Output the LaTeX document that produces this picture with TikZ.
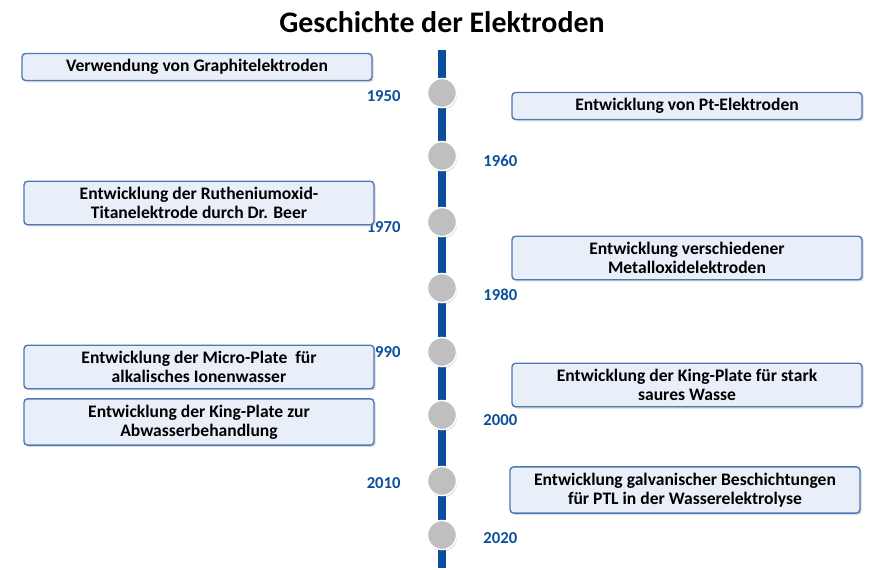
\documentclass[tikz,border=0pt]{standalone}
\usepackage{fontspec}
\setmainfont{Carlito}
\usetikzlibrary{positioning,shadows}
\definecolor{lineblue}{HTML}{0B4F9C}
\definecolor{boxfill}{HTML}{E9EFF9}
\definecolor{boxdraw}{HTML}{4F78B5}
\definecolor{dotgray}{HTML}{BFBFBF}

\begin{document}
\begin{tikzpicture}[x=0.02cm, y=-0.02cm,
event/.style={rectangle, rounded corners=2pt, draw=boxdraw, fill=boxfill, thick, minimum width=7cm, minimum height=0.5cm, align=center, font=\bfseries\fontsize{10}{11}\selectfont, drop shadow={opacity=0.3, shadow xshift=1pt, shadow yshift=-1pt}},
tall/.style={event, minimum height=0.8cm},
dot/.style={circle, fill=dotgray, draw=white, thick, minimum size=0.58cm, inner sep=0pt, drop shadow={opacity=0.25, shadow xshift=0.5pt, shadow yshift=-1pt}},
year/.style={text=lineblue, font=\bfseries\fontsize{9.5}{10}\selectfont},
]
\useasboundingbox (0,0) rectangle (890,570);

\node[font=\bfseries\fontsize{17}{20}\selectfont] (title) at (442,22) {Geschichte der Elektroden};

\coordinate (top) at (442,50);
\coordinate (bottom) at (442,568);
\draw[lineblue, line width=5pt] (top) -- (bottom);

% Jahre
\node[dot] (d1950) at (442,93) {};
\node[dot] (d1960) at (442,156) {};
\node[dot] (d1970) at (442,222) {};
\node[dot] (d1980) at (442,288) {};
\node[dot] (d1990) at (442,352) {};
\node[dot] (d2000) at (442,415) {};
\node[dot] (d2010) at (442,481) {};
\node[dot] (d2020) at (442,535) {};

\node[year] (y1950) [left=4mm of d1950, yshift=-2pt] {1950};
\node[year] (y1960) [right=4mm of d1960, yshift=-3pt] {1960};
\node[year] (y1970) [left=4mm of d1970, yshift=-3pt] {1970};
\node[year] (y1980) [right=4mm of d1980, yshift=-4pt] {1980};
\node[year] (y1990) [left=4mm of d1990, yshift=0pt] {1990};
\node[year] (y2000) [right=4mm of d2000, yshift=-3pt] {2000};
\node[year] (y2010) [left=4mm of d2010, yshift=-1pt] {2010};
\node[year] (y2020) [right=4mm of d2020, yshift=-2pt] {2020};

% Ereignisse links
\node[event] (graphit) at (197,67) {Verwendung von Graphitelektroden};
\node[tall] (ruthen) at (199,203) {Entwicklung der Rutheniumoxid-\\Titanelektrode durch Dr. Beer};
\node[tall] (micro) at (199,367) {Entwicklung der Micro-Plate\ \ für\\alkalisches Ionenwasser};
\node[tall] (kingab) at (199,422) {Entwicklung der King-Plate zur\\Abwasserbehandlung};

% Ereignisse rechts
\node[event] (pt) at (687,106) {Entwicklung von Pt-Elektroden};
\node[tall] (metall) at (687,258) {Entwicklung verschiedener\\Metalloxidelektroden};
\node[tall] (kingsauer) at (687,385) {Entwicklung der King-Plate für stark\\saures Wasse};
\node[tall] (galvan) at (685,490) {Entwicklung galvanischer Beschichtungen\\für PTL in der Wasserelektrolyse};
\end{tikzpicture}
\end{document}
